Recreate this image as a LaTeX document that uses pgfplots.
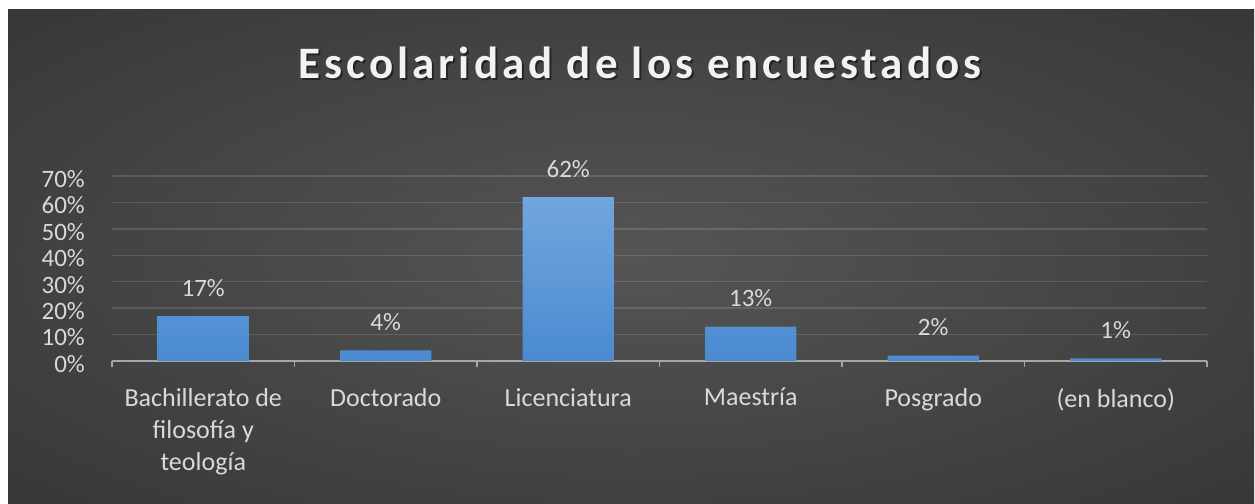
\documentclass[border=0pt]{standalone}
\usepackage{pgfplots}
\pgfplotsset{compat=1.18}
\usepackage{fontspec}
\setmainfont{Carlito}

\definecolor{bgc}{HTML}{555555}
\definecolor{bge}{HTML}{2B2B2B}
\definecolor{bgk}{HTML}{212121}
\definecolor{lab}{HTML}{D9D9D9}
\definecolor{titc}{HTML}{F2F2F2}
\definecolor{axisc}{HTML}{A6A6A6}
\definecolor{barT}{HTML}{71A6DE}
\definecolor{barB}{HTML}{4B8AD0}

\pgfdeclareradialshading{panel}{\pgfpoint{0bp}{0bp}}{color(0bp)=(bgc); color(50bp)=(bge); color(71bp)=(bgk)}

\newcommand\titlefont{\fontsize{45bp}{54bp}\selectfont\bfseries\addfontfeature{LetterSpace=9}}
\newcommand\labfont{\fontsize{25bp}{30bp}\selectfont}
\newcommand\catfont{\fontsize{26bp}{32bp}\selectfont}

\begin{document}
\begin{tikzpicture}
\useasboundingbox (0bp,0bp) rectangle (1255bp,504bp);
\fill[white] (0bp,0bp) rectangle (1255bp,504bp);
\shade[shading=panel] (8bp,0bp) rectangle (1254bp,494bp);

% title with a soft shadow
\node[anchor=base, text=black, opacity=0.45, font=\titlefont] at (642bp,423bp) {Escolaridad de los encuestados};
\node[anchor=base, text=titc, font=\titlefont] at (640bp,425bp) {Escolaridad de los encuestados};

% categories sit at 0..5; ticks (and their labels, shifted half a slot) at the slot edges
\begin{axis}[
    at={(112bp,143bp)}, anchor=south west,
    scale only axis, width=1095bp, height=185bp,
    ybar, bar width=0.5,
    xmin=-0.5, xmax=5.5, ymin=0, ymax=70,
    enlargelimits=false, clip=false,
    axis lines*=left,
    axis line style={-},
    y axis line style={draw=none},
    x axis line style={draw=axisc, line width=1.3bp},
    tick align=outside, major tick length=6bp,
    xtick={-0.5,0.5,1.5,2.5,3.5,4.5},
    xticklabels={Bachillerato de\\filosofía y\\teología, Doctorado, Licenciatura, Maestría, Posgrado, (en blanco)},
    xtick style={draw=axisc, line width=1.3bp},
    extra x ticks={5.5},
    extra x tick labels={},
    extra x tick style={grid=none},
    xticklabel style={font=\catfont, text=lab, align=center, anchor=north, inner sep=0pt,
        xshift=91.25bp, yshift=-21bp},
    ytick={0,10,...,70},
    yticklabels={0\%,10\%,20\%,30\%,40\%,50\%,60\%,70\%},
    ytick style={draw=none},
    yticklabel style={font=\labfont, text=lab, anchor=east, inner sep=0pt, xshift=-21bp, yshift=-3bp},
    ymajorgrids,
    grid style={draw=white, opacity=0.13, line width=1.3bp},
    /pgf/number format/assume math mode=true,
    nodes near coords={\pgfmathprintnumber{\pgfplotspointmeta}\%},
    nodes near coords style={font=\labfont, text=lab, anchor=base, inner sep=0pt, yshift=20bp},
  ]
\addplot[draw=none, top color=barT, bottom color=barB]
  coordinates {(0,17) (1,4) (2,62) (3,13) (4,2) (5,1)};
\end{axis}
\end{tikzpicture}
\end{document}
